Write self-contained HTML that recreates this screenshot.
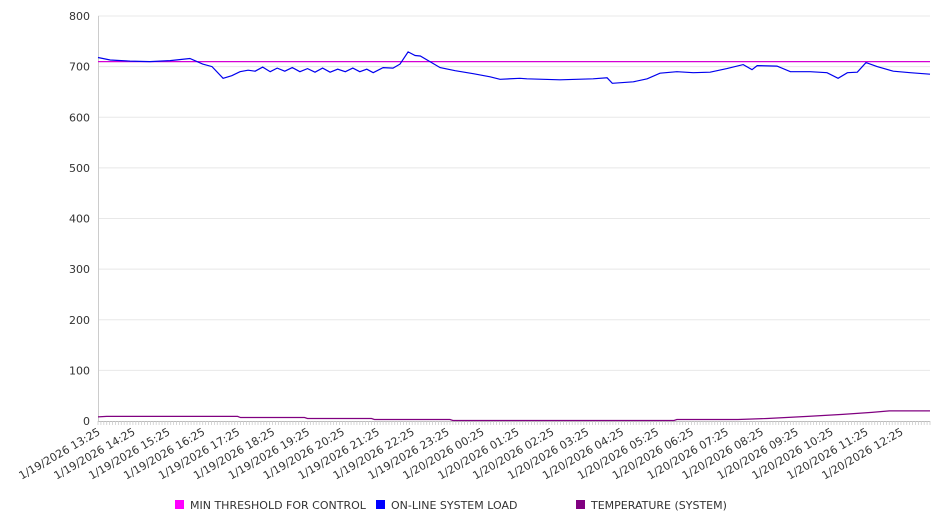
<!DOCTYPE html>
<html><head><meta charset="utf-8"><style>
html,body{margin:0;padding:0;background:#fff;}
svg{display:block;font-family:"DejaVu Sans","Liberation Sans",sans-serif;}
</style></head><body>
<svg id="chart" width="946" height="526">
<g id="grid"></g>
<g id="yaxis"></g>
<g id="xaxis"></g>
<g id="series"></g>
<g id="legend"></g>
</svg>
<script>
const yTicks = [0,100,200,300,400,500,600,700,800];
const xLabels = ["1/19/2026 13:25","1/19/2026 14:25","1/19/2026 15:25","1/19/2026 16:25","1/19/2026 17:25","1/19/2026 18:25","1/19/2026 19:25","1/19/2026 20:25","1/19/2026 21:25","1/19/2026 22:25","1/19/2026 23:25","1/20/2026 00:25","1/20/2026 01:25","1/20/2026 02:25","1/20/2026 03:25","1/20/2026 04:25","1/20/2026 05:25","1/20/2026 06:25","1/20/2026 07:25","1/20/2026 08:25","1/20/2026 09:25","1/20/2026 10:25","1/20/2026 11:25","1/20/2026 12:25"];
const loadMin = [0,21,55,89,124,158,180,196,215,230,244,258,270,283,296,308,321,334,347,360,373,386,399,412,425,438,450,462,473,490,507,519,533,545,554,588,614,645,674,691,725,737,794,851,875,884,920,944,966,995,1023,1052,1081,1109,1124,1133,1167,1190,1224,1253,1272,1288,1305,1320,1339,1367,1396,1430];
const loadVal = [718,713,711,710,712,716,705,700,677,682,690,693,691,699,690,697,691,698,690,696,689,697,689,695,690,697,690,695,688,698,697,705,729,722,721,698,692,686,680,675,677,676,674,676,678,667,670,676,687,690,688,689,696,704,694,702,701,690,690,688,677,688,689,708,700,691,688,685];
const threshMin = [0,1430];
const threshVal = [710,710];
const tempMin = [0,15,240,245,355,360,470,475,605,610,990,995,1100,1150,1220,1280,1330,1360,1430];
const tempVal = [8,9,9,7,7,5,5,3,3,1,1,3,3,5,9,13,17,20,20];

const X0=98, X1=930, Y0=421, YTOP=16, MAXMIN=1430, MAXV=800;
const xs = m => X0 + m*(X1-X0)/MAXMIN;
const ys = v => Y0 - v*(Y0-YTOP)/MAXV;
const NS="http://www.w3.org/2000/svg";
function mk(tag, attrs, parent){const e=document.createElementNS(NS,tag);for(const k in attrs)e.setAttribute(k,attrs[k]);parent.appendChild(e);return e;}
const grid=document.getElementById('grid'), yaxis=document.getElementById('yaxis'), xaxis=document.getElementById('xaxis'), series=document.getElementById('series'), legend=document.getElementById('legend');

yTicks.forEach(v=>{
  if(v>0){const g=mk('line',{x1:X0,x2:X1,y1:ys(v),y2:ys(v),stroke:'#e8e8e8','stroke-width':1},grid);
  
  }
  const t=mk('text',{x:90,y:ys(v)+4,'text-anchor':'end','font-size':11,fill:'#333'},yaxis);
  t.textContent=v;
  
  
});
const ya=mk('line',{x1:X0+0.5,x2:X0+0.5,y1:YTOP,y2:Y0,stroke:'#ccc'},yaxis);


const xa=mk('line',{x1:X0,x2:X1,y1:Y0+0.5,y2:Y0+0.5,stroke:'#bbb'},xaxis);


for(let m=0;m<=MAXMIN;m+=5){
  const tk=mk('line',{x1:xs(m),x2:xs(m),y1:Y0,y2:Y0+4,stroke:'#ccc','stroke-width':0.8},xaxis);
  
  
}
xLabels.forEach((s,i)=>{
  const x=xs(i*60)+3, y=Y0+13;
  const t=mk('text',{x:x,y:y,'text-anchor':'end','font-size':11,fill:'#333',transform:`rotate(-30 ${x} ${y})`},xaxis);
  t.textContent=s;
  
  
});
function line(ms,vs,color,name){
  const d=ms.map((m,i)=>(i?'L':'M')+xs(m).toFixed(1)+','+ys(vs[i]).toFixed(1)).join(' ');
  const p=mk('path',{d:d,fill:'none',stroke:color,'stroke-width':1.2},series);
  
  
}
line(threshMin,threshVal,'#d400d4','min-threshold-line');
line(tempMin,tempVal,'#800080','temperature-line');
line(loadMin,loadVal,'#0000ee','system-load-line');

const items=[['MIN THRESHOLD FOR CONTROL','#ff00ff',175],['ON-LINE SYSTEM LOAD','#0000ff',376],['TEMPERATURE (SYSTEM)','#800080',576]];
items.forEach(([label,c,x])=>{
  const g=mk('g',{},legend);
  
  
  mk('rect',{x:x,y:500,width:9,height:9,fill:c},g);
  const t=mk('text',{x:x+15,y:509,'font-size':11,fill:'#333'},g);
  t.textContent=label;
});
</script>
</body></html>
